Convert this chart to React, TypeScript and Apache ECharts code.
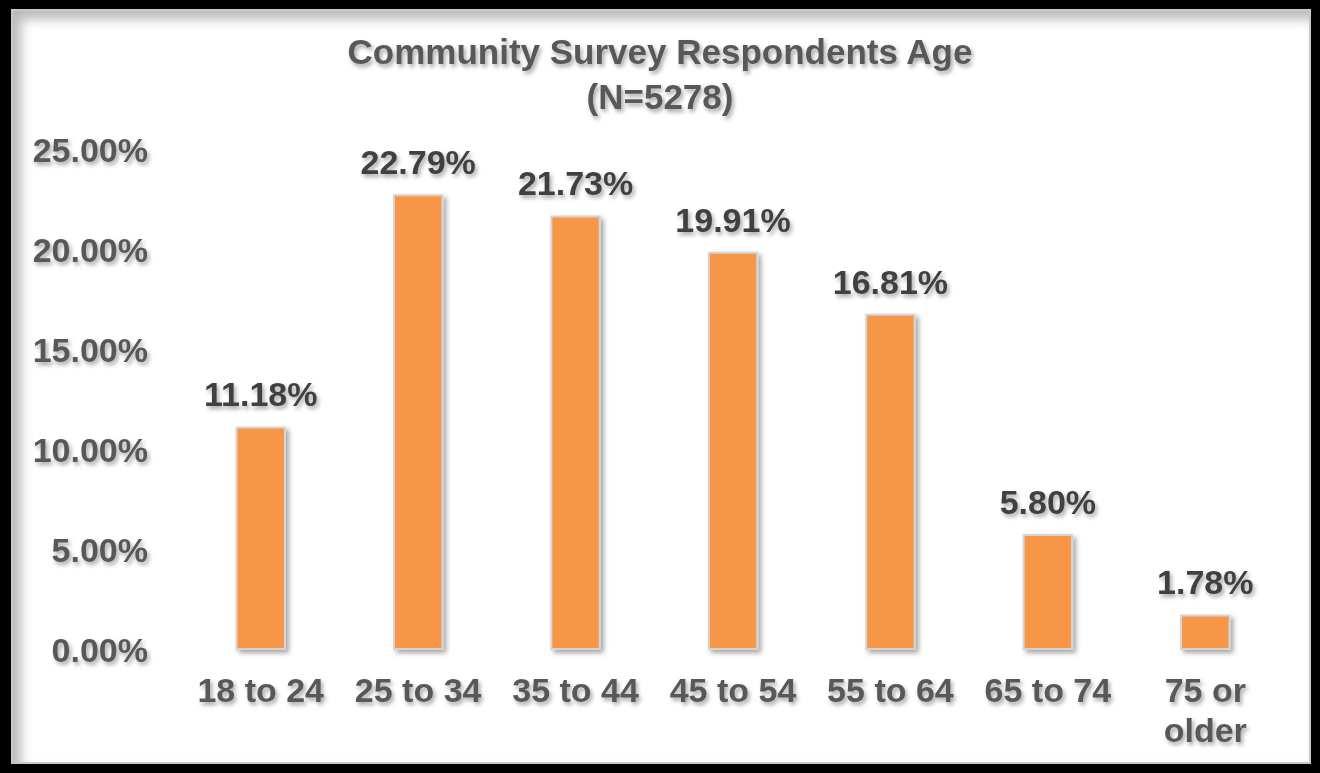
import React, { useEffect, useRef } from "react";
import * as echarts from "echarts";

const titleLines = ["Community Survey Respondents Age", "(N=5278)"];
const categories = ["18 to 24", "25 to 34", "35 to 44", "45 to 54", "55 to 64", "65 to 74", "75 or\nolder"];
const values = [11.18, 22.79, 21.73, 19.91, 16.81, 5.8, 1.78];
const yTicks = { min: 0, max: 25, interval: 5 };

const FONT = "'Liberation Sans', Arial, sans-serif";
const shadow = {
  textShadowColor: "rgba(0,0,0,0.35)",
  textShadowBlur: 4,
  textShadowOffsetX: 2,
  textShadowOffsetY: 3,
};

export default function App() {
  const ref = useRef<HTMLDivElement>(null);
  useEffect(() => {
    if (!ref.current) return;
    const chart = echarts.init(ref.current, undefined, { renderer: "svg" });
    chart.setOption({
      animation: false,
      backgroundColor: "transparent",
      title: {
        text: titleLines.join("\n"),
        left: "center",
        top: 24,
        textStyle: {
          fontFamily: FONT,
          fontWeight: "bold",
          fontSize: 35,
          lineHeight: 45,
          color: "#595959",
          ...shadow,
        },
      },
      grid: { left: 182, right: 36, top: 150, bottom: 123, containLabel: false },
      xAxis: {
        type: "category",
        data: categories,
        axisLine: { show: false },
        axisTick: { show: false },
        axisLabel: {
          interval: 0,
          margin: 20,
          fontFamily: FONT,
          fontWeight: "bold",
          fontSize: 34,
          lineHeight: 40,
          color: "#595959",
          ...shadow,
        },
      },
      yAxis: {
        type: "value",
        min: yTicks.min,
        max: yTicks.max,
        interval: yTicks.interval,
        axisLine: { show: false },
        axisTick: { show: false },
        axisLabel: {
          margin: 34,
          fontFamily: FONT,
          fontWeight: "bold",
          fontSize: 34,
          color: "#595959",
          formatter: (v: number) => v.toFixed(2) + "%",
          ...shadow,
        },
        splitLine: {
          lineStyle: {
            color: "#D0D0D0",
            width: 2,
            shadowColor: "rgba(0,0,0,0.3)",
            shadowBlur: 4,
            shadowOffsetX: 2,
            shadowOffsetY: 3,
          },
        },
      },
      series: [
        {
          type: "bar",
          data: values,
          barWidth: "32%",
          itemStyle: {
            color: "#F79646",
            borderColor: "#D4D4D4",
            borderWidth: 2,
            shadowColor: "rgba(0,0,0,0.35)",
            shadowBlur: 5,
            shadowOffsetX: 3,
            shadowOffsetY: 3,
          },
          label: {
            show: true,
            position: "top",
            distance: 15,
            fontFamily: FONT,
            fontWeight: "bold",
            fontSize: 34,
            color: "#404040",
            formatter: (p: any) => p.value.toFixed(2) + "%",
            ...shadow,
          },
        },
      ],
    });
    return () => chart.dispose();
  }, []);

  return (
    <div
      style={{
        position: "fixed",
        left: 0,
        top: 0,
        width: 1320,
        height: 773,
        background: "#000",
      }}
    >
      <div
        style={{
          position: "absolute",
          left: 11,
          top: 9,
          width: 1300,
          height: 755,
          background: "#fff",
          border: "2px solid #C8C8C8",
          boxSizing: "border-box",
          boxShadow: "inset 8px 8px 12px rgba(0,0,0,0.28)",
        }}
      />
      <div ref={ref} style={{ position: "absolute", left: 0, top: 0, width: 1320, height: 773 }} />
    </div>
  );
}
